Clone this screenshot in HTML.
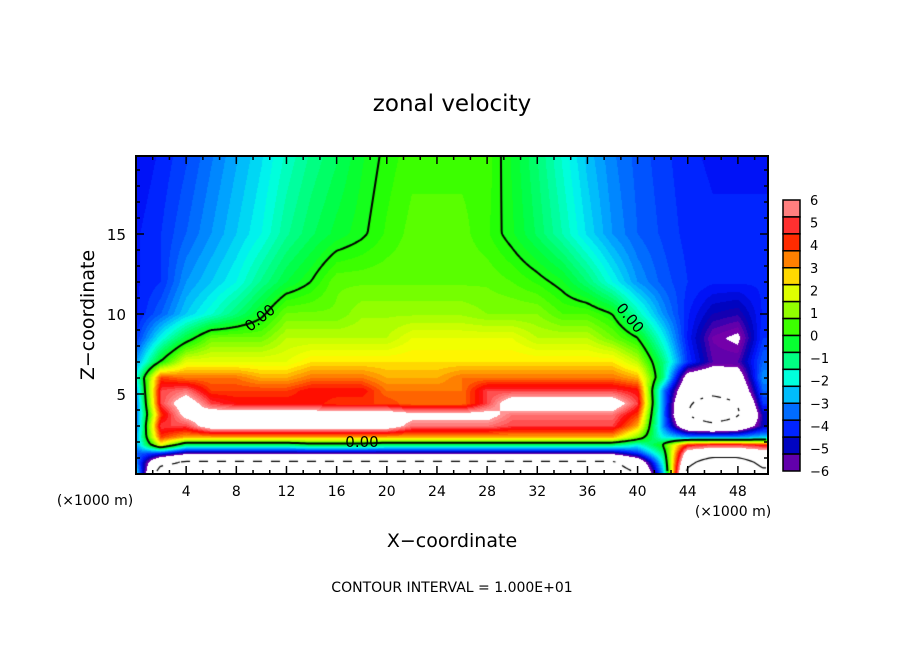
<!DOCTYPE html>
<html><head><meta charset="utf-8"><style>
body{margin:0;background:#fff;}
#wrap{position:relative;width:904px;height:654px;font-family:"DejaVu Sans","Liberation Sans",sans-serif;}
canvas,svg{position:absolute;left:0;top:0;}
</style></head><body>
<div id="wrap">
<canvas id="cv" width="904" height="654"></canvas>
<svg id="sv" width="904" height="654"></svg>
</div>
<script>
const xs = [0,2,4,6,8,10,12,14,16,18,20,22,24,26,28,30,32,34,36,38,40,42,44,46,48,50];
const zs = [0,0.7,1.3,1.8,2.3,3,3.7,4.4,5.2,6,7,8.5,10,12,15,20];
const field = [
[-2,-12,-12,-12,-12,-12,-12,-12,-12,-12,-12,-12,-12,-12,-12,-12,-12,-12,-12,-12,-10,-3,11,14,14,11],
[-3,-9,-10.5,-10.5,-10.5,-10.5,-10.5,-10.5,-10.5,-10.5,-10.5,-10.5,-10.5,-10.5,-10.5,-10.5,-10.5,-10.5,-10.5,-10.5,-8,-2,9,12,12,9],
[-3.5,-4,-5.5,-5.5,-5.5,-5.5,-5.5,-5.5,-5.5,-5.5,-5.5,-5.5,-5.5,-5.5,-5.5,-5.5,-5.5,-5.5,-5.5,-5.5,-4,-1,7,8,8,7],
[-3,2,-1,-1,-1,-1,-1,-0.5,-0.5,-0.5,-1,-1,-1,-1,-1,-1,-1,-1,-1,-1,-2,0,4.5,5,5,4.5],
[-3,4,3,3,3,3,3,3,3,3,3,3,3,3,3,3,3,3,3,3,1,-2,-3,-3,-3,-2.5],
[-3.5,5,5,7,7,7,7,7,7,7,7,5.5,5.5,5.5,5.5,5,5,5,5,5,3,-3,-8,-9,-8,-5],
[-3.5,4,6.5,7,7,7,7,7,7,7,7,6.5,6.5,6.5,6.5,5.5,5.5,5.5,5.5,5.5,4,-3,-10,-13,-10.5,-5],
[-3.5,5,7,5,4.5,4.5,4.5,4.5,4,4,4,3.5,3.5,3.5,5,7,7,7,7,7,5,-3,-9.5,-12,-10,-4],
[-3,5,5.5,4,4,4,4,4.5,4.5,4.5,3.5,3.5,3.5,3.5,5,5,5,5,5,5,4.5,-3,-8,-8.5,-8,-3.5],
[-2,4,3.5,3.5,3.5,3,3,3.5,3.5,3.5,3,3,3,3.5,3.5,3.5,3.5,3.5,3.5,3.5,3,-1,-7,-7.5,-7,-3],
[-3,0,2,2,2,2,2,2.5,2.5,2.5,2.5,2.5,2.5,2.5,2.5,2.5,2.5,2.5,2.5,2.5,1.5,-1,-4,-5.5,-5.5,-3.5],
[-4,-2,-0.5,0.8,0.8,0.8,1.5,1.5,1.5,1.5,1.5,2,2,2,2,2,1.5,1.5,1.5,0.8,0,-2,-4.3,-5.8,-6.2,-4],
[-4.3,-3.5,-2.5,-1.8,-1,-0.2,0.8,0.8,0.8,1.2,1.2,1.2,1.2,1.2,1,1,1,0.5,0.5,0,-1.5,-3,-4.2,-5,-5.2,-4.2],
[-4.3,-4,-3,-2.5,-2,-1.2,-0.5,0,0.7,0.7,0.7,0.7,0.7,0.7,0.7,0.5,0.2,-0.2,-1,-2,-3,-3.6,-4,-4.2,-4.2,-4.2],
[-4.3,-4,-3.5,-3,-2.5,-2,-1.3,-0.8,-0.4,-0.1,0.3,0.6,0.6,0.6,0.3,-0.2,-0.8,-1.5,-2.3,-3,-3.5,-3.8,-4.1,-4.2,-4.2,-4.2],
[-4.5,-4.2,-3.8,-3.3,-2.8,-2.3,-1.7,-1.2,-0.8,-0.3,0.1,0.4,0.4,0.4,0.4,-0.3,-1,-1.8,-2.6,-3.2,-3.6,-3.9,-4.2,-4.3,-4.3,-4.3]
];
const cbTicks = [6,5,4,3,2,1,0,-1,-2,-3,-4,-5,-6];
const xTicks = [4,8,12,16,20,24,28,32,36,40,44,48];
const yTicks = [5,10,15];
const contourLevels = [-10,0,10];

const L=136,R=768,T=156,B=474, XMAX=50.4, ZMAX=19.875;
const sx = v => L + v/XMAX*(R-L);
const sy = v => B - v/ZMAX*(B-T);
const stops=[[6,[255,160,160]],[5.2,[255,90,90]],[4.5,[255,0,0]],[3.8,[255,80,0]],[3,[255,170,0]],[2.3,[255,255,0]],[1.6,[200,255,0]],[0.9,[120,255,0]],[0.2,[40,255,0]],[-0.5,[0,255,60]],[-1.3,[0,255,150]],[-2,[0,255,235]],[-2.8,[0,170,255]],[-3.5,[0,95,255]],[-4.3,[0,20,255]],[-5,[0,0,180]],[-5.7,[110,0,170]],[-6,[120,0,170]]];
function colC(c){
  for(let i=0;i<stops.length-1;i++){const a=stops[i],b=stops[i+1];
    if(c<=a[0]&&c>=b[0]){const t=(a[0]-c)/(a[0]-b[0]);return a[1].map((k,j)=>Math.round(k+(b[1][j]-k)*t));}}
  return stops[stops.length-1][1];
}
function col(v){
  if(v>6||v<-6) return [255,255,255];
  const q=Math.floor((v+6)/0.25); return colC(-6+q*0.25+0.125);
}
function idx(arr,v){for(let i=0;i<arr.length-1;i++) if(v<=arr[i+1]) return i; return arr.length-2;}
function val(x,z){
  const i=idx(xs,x), j=idx(zs,z);
  const tx=(x-xs[i])/(xs[i+1]-xs[i]), tz=(z-zs[j])/(zs[j+1]-zs[j]);
  const a=field[j][i],b=field[j][i+1],c=field[j+1][i],d=field[j+1][i+1];
  return a*(1-tx)*(1-tz)+b*tx*(1-tz)+c*(1-tx)*tz+d*tx*tz;
}
const cv=document.getElementById('cv'),ctx=cv.getContext('2d');
const W=R-L,H=B-T;const img=ctx.createImageData(W,H);
const grid=[];
for(let py=0;py<H;py++){const z=Math.max(0,(H-py-0.5)/H*ZMAX);grid.push([]);
  for(let px=0;px<W;px++){const x=Math.min(50,(px+0.5)/W*XMAX);const v=val(x,z);grid[py].push(v);
    const c=col(v);const k=(py*W+px)*4;img.data[k]=c[0];img.data[k+1]=c[1];img.data[k+2]=c[2];img.data[k+3]=255;}}
ctx.putImageData(img,L,T);
const st=3;
contourLevels.forEach(lev=>{
  ctx.strokeStyle='#000';ctx.lineWidth=lev===0?2:1.2;ctx.beginPath();
  for(let py=0;py+st<H;py+=st)for(let px=0;px+st<W;px+=st){
    if(lev<0 && (Math.floor(px/9)+Math.floor(py/9))%2===1) continue;
    const v=[grid[py][px]-lev,grid[py][px+st]-lev,grid[py+st][px+st]-lev,grid[py+st][px]-lev];
    const p=[[px,py],[px+st,py],[px+st,py+st],[px,py+st]];const pts=[];
    for(let e=0;e<4;e++){const a=v[e],b=v[(e+1)%4];if((a>0)!==(b>0)){const t=a/(a-b);pts.push([p[e][0]+(p[(e+1)%4][0]-p[e][0])*t,p[e][1]+(p[(e+1)%4][1]-p[e][1])*t]);}}
    for(let k=0;k+1<pts.length;k+=2){ctx.moveTo(L+pts[k][0],T+pts[k][1]);ctx.lineTo(L+pts[k+1][0],T+pts[k+1][1]);}
  }
  ctx.stroke();
});
const NS='http://www.w3.org/2000/svg',sv=document.getElementById('sv');
function el(t,a,p){const e=document.createElementNS(NS,t);for(const k in a)e.setAttribute(k,a[k]);(p||sv).appendChild(e);return e;}
[[260,318,-38,'0.00'],[362,442,0,'0.00'],[630,318,50,'0.00']].forEach(l=>{
  const g=el('g',{transform:`translate(${l[0]},${l[1]}) rotate(${l[2]})`});
  
  
  const t=el('text',{x:0,y:5,'text-anchor':'middle','font-size':15,fill:'#000'},g);t.textContent=l[3];
});
const fr=el('rect',{x:L,y:T,width:R-L,height:B-T,fill:'none',stroke:'#000','stroke-width':2});


for(let v=4/3;v<50.4;v+=4/3){const x=sx(v);const maj=Math.abs(v/4-Math.round(v/4))<0.01;const len=maj?8:4;
  el('line',{x1:x,y1:B,x2:x,y2:B-len,stroke:'#000','stroke-width':1.5});el('line',{x1:x,y1:T,x2:x,y2:T+len,stroke:'#000','stroke-width':1.5});}
for(let v=1;v<20;v++){const y=sy(v);const len=v%5===0?8:4;
  el('line',{x1:L,y1:y,x2:L+len,y2:y,stroke:'#000','stroke-width':1.5});el('line',{x1:R,y1:y,x2:R-len,y2:y,stroke:'#000','stroke-width':1.5});}
xTicks.forEach(v=>{const t=el('text',{x:sx(v),y:B+22,'text-anchor':'middle','font-size':14});t.textContent=v;
  
  });
yTicks.forEach(v=>{const t=el('text',{x:L-10,y:sy(v)+6,'text-anchor':'end','font-size':15});t.textContent=v;
  
  });
const cbX=783,cbW=17,cbT=200,cbB=471,nb=16,bh=(cbB-cbT)/nb;
for(let i=0;i<nb;i++){const v=6-(i+0.5)*0.75;const c=colC(v);
  const r=el('rect',{x:cbX,y:cbT+i*bh,width:cbW,height:bh,fill:`rgb(${c})`,stroke:'#000','stroke-width':1.5});
  
  }
cbTicks.forEach(v=>{const t=el('text',{x:810,y:cbT+(6-v)/12*(cbB-cbT)+5,'font-size':13});t.textContent=v<0?'\u2212'+(-v):v;
  
  });
function txt(s,a,name){const t=el('text',a);t.textContent=s;}
txt('zonal velocity',{x:452,y:111,'text-anchor':'middle','font-size':23},'chart-title');
txt('X\u2212coordinate',{x:452,y:547,'text-anchor':'middle','font-size':19},'x-axis-title');
txt('Z\u2212coordinate',{x:0,y:0,'text-anchor':'middle','font-size':19,transform:'translate(94,315) rotate(-90)'},'y-axis-title');
txt('(\u00d71000 m)',{x:95,y:505,'text-anchor':'middle','font-size':14},'x-unit-left');
txt('(\u00d71000 m)',{x:733,y:516,'text-anchor':'middle','font-size':14},'x-unit-right');
txt('CONTOUR INTERVAL = 1.000E+01',{x:452,y:592,'text-anchor':'middle','font-size':14},'contour-interval-note');
</script>
</body></html>
